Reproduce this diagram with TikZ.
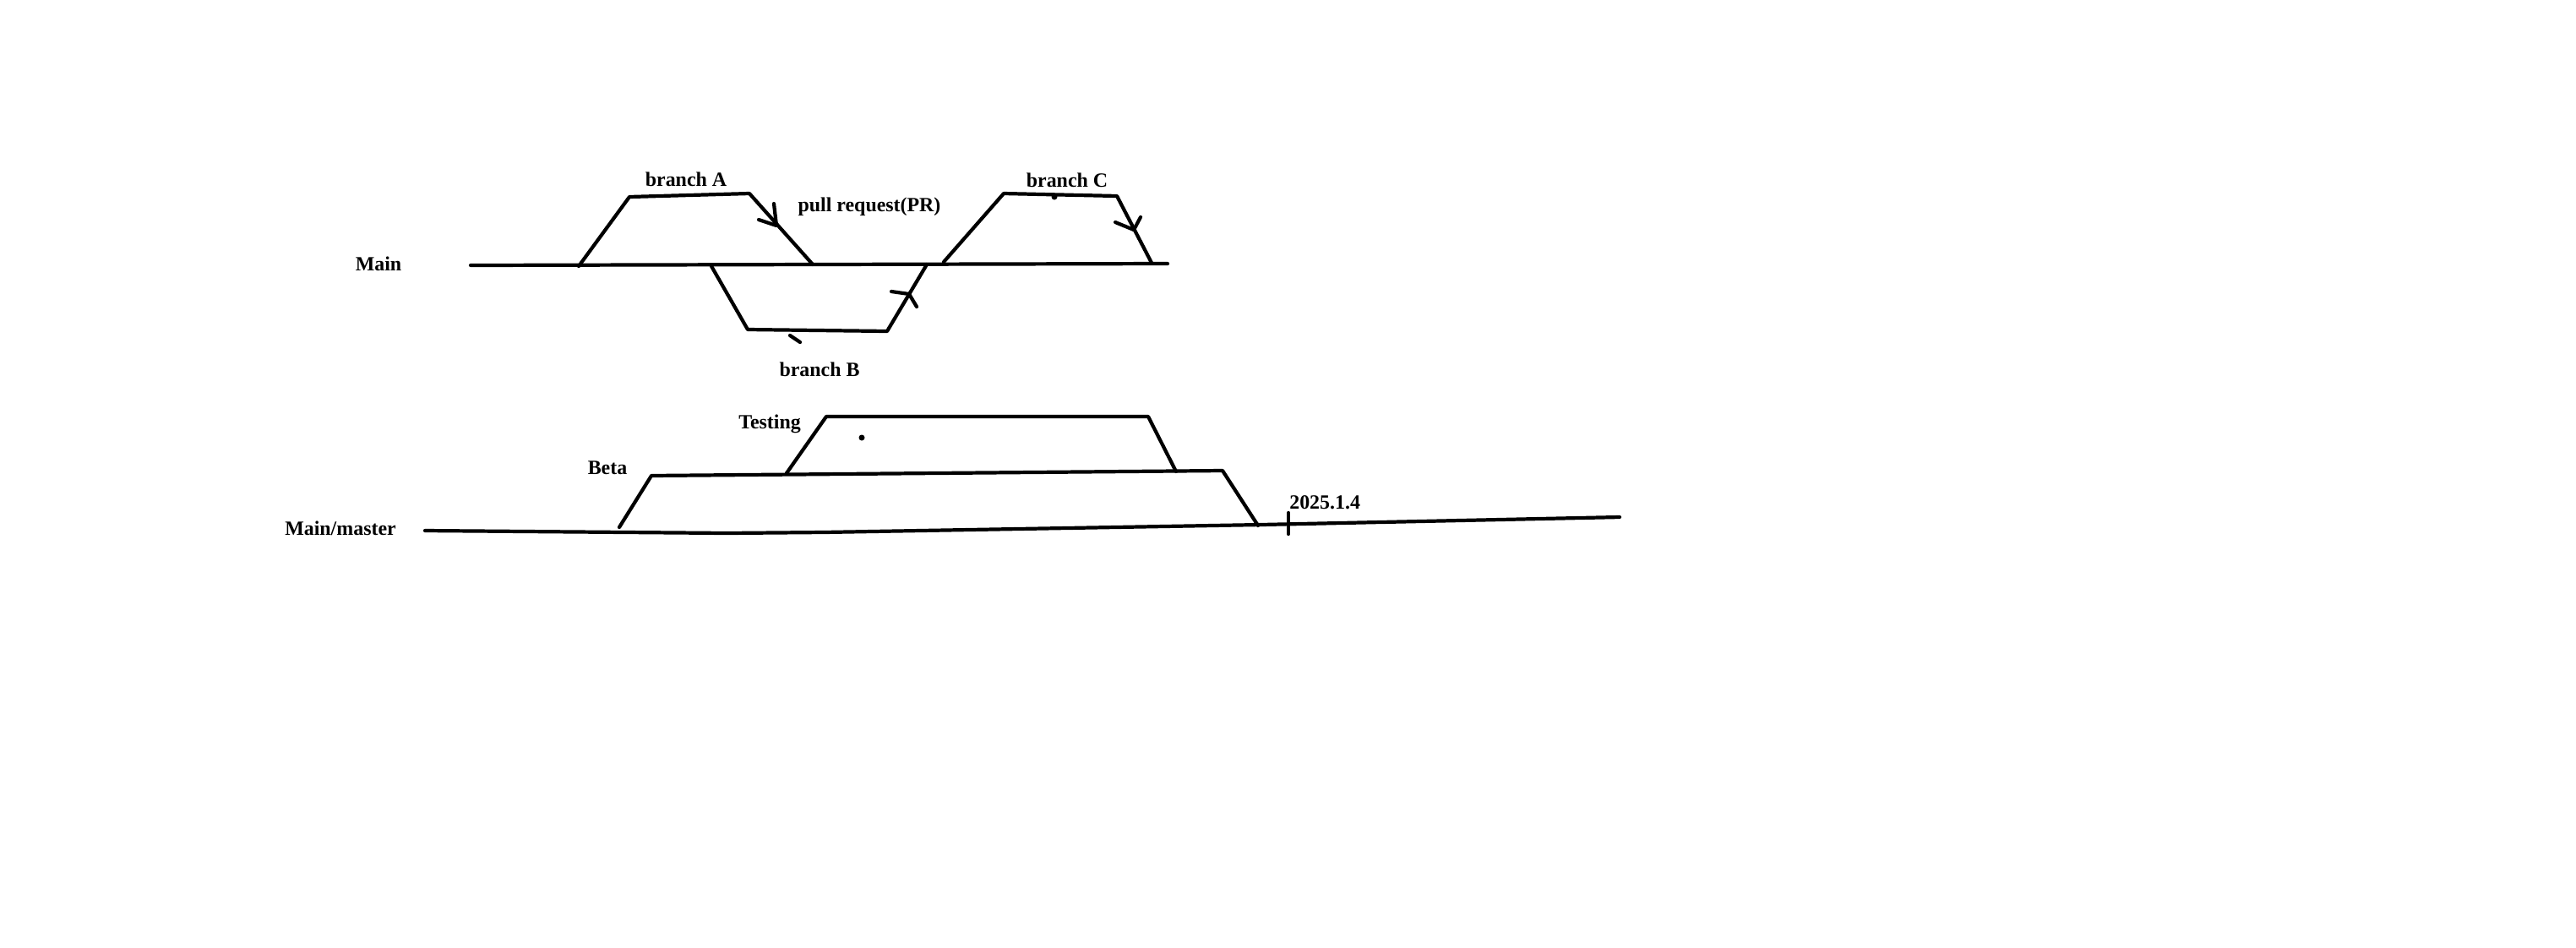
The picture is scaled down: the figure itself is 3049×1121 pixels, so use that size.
\documentclass[tikz,border=0pt]{standalone}
\usepackage{fontspec}
\setmainfont{Liberation Serif}

\begin{document}
\begin{tikzpicture}[x=0.025cm,y=-0.025cm,
	stroke/.style={line width=3pt,line cap=round,line join=round},
	lbl/.style={font=\fontsize{17}{20}\selectfont\bfseries,inner sep=0pt}]

	\useasboundingbox[fill=white] (0,0) rectangle (3049,1121);

		\coordinate (m0) at (557,314);
		\coordinate (m1) at (1382,312);
		\coordinate (a0) at (685,315);
		\coordinate (a1) at (745,233);
		\coordinate (a2) at (887,229);
		\coordinate (a3) at (962,313);
		\coordinate (b0) at (842,315);
		\coordinate (b1) at (885,390);
		\coordinate (b2) at (1050,392);
		\coordinate (b3) at (1097,313);
		\coordinate (c0) at (1117,310);
		\coordinate (c1) at (1188,229);
		\coordinate (c2) at (1322,232);
		\coordinate (c3) at (1363,311);

		\draw[stroke](m0)--(m1);
		\draw[stroke](a0)--(a1)--(a2)--(a3);
		\draw[stroke](b0)--(b1)--(b2)--(b3);
		\draw[stroke](c0)--(c1)--(c2)--(c3);

		\coordinate (pa) at (919,267);
		\draw[stroke](898,260)--(pa)--(916,241);
		\coordinate (pb) at (1076,348);
		\draw[stroke](1055,345)--(pb)--(1085,363);
		\coordinate (pc) at (1342,272);
		\draw[stroke](1320,263)--(pc)--(1350,257);
		\draw[stroke](935,397)--(947,405);
		\fill(1248,233) circle [radius=3.5];

		\node[lbl] (main) at (448,312) {Main};
		\node[lbl] (bra) at (812,212) {branch A};
		\node[lbl] (pr) at (1029,245) {pull request(PR)};
		\node[lbl] (brb) at (970,437) {branch B};
		\node[lbl] (brc) at (1263,213) {branch C};

		\coordinate (n0) at (503,628);
		\coordinate (n1) at (860,631);
		\coordinate (n2) at (975,630);
		\coordinate (n3) at (1493,621);
		\coordinate (n4) at (1917,612);
		\coordinate (e0) at (733,624);
		\coordinate (e1) at (771,563);
		\coordinate (e2) at (1447,557);
		\coordinate (e3) at (1489,622);
		\coordinate (t0) at (931,560);
		\coordinate (t1) at (978,493);
		\coordinate (t2) at (1359,493);
		\coordinate (t3) at (1392,558);

		\draw[stroke](n0)--(n1)--(n2)--(n3)--(n4);
		\draw[stroke](e0)--(e1)--(e2)--(e3);
		\draw[stroke](t0)--(t1)--(t2)--(t3);

		\coordinate (d0) at (1525,607);
		\coordinate (d1) at (1525,632);
		\draw[stroke](d0)--(d1);
		\fill(1020,518) circle [radius=3.5];

		\node[lbl] (mm) at (403,625) {Main/master};
		\node[lbl] (beta) at (719,554) {Beta};
		\node[lbl] (test) at (911,502) {Testing};
		\node[lbl,anchor=south west] (date) at (1526,603) {2025.1.4};
	\end{tikzpicture}
\end{document}
